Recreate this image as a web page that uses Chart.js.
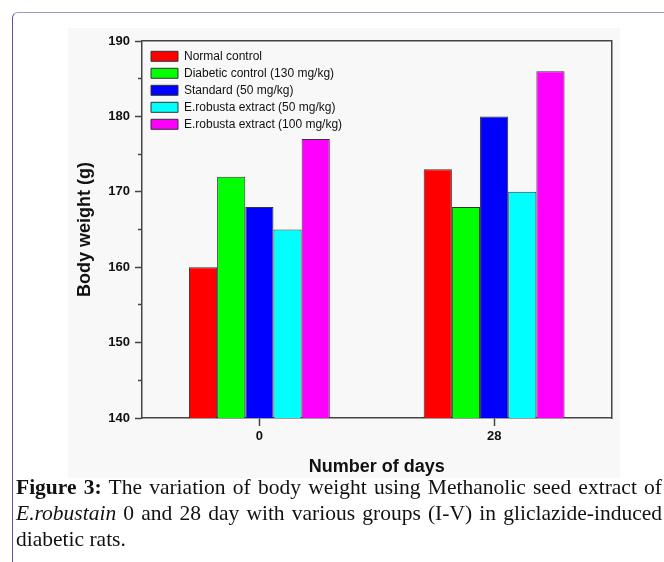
<!DOCTYPE html>
<html>
<head>
<meta charset="utf-8">
<script src="https://cdn.jsdelivr.net/npm/chart.js@4.4.0/dist/chart.umd.min.js"></script>
<style>
  html, body { margin: 0; padding: 0; background: #fff; }
  body { width: 664px; height: 562px; position: relative; overflow: hidden; }
  #frame {
    position: absolute; left: 12px; top: 12px; width: 720px; height: 620px;
    border-left: 1px solid #5a54a4; border-top: 1px solid #9c98c8;
    border-top-left-radius: 6px;
  }
  #panel { position: absolute; left: 68px; top: 28px; width: 552px; height: 450px; background: #f8f8f8; }
  #caption {
    position: absolute; left: 16px; top: 474px; width: 646px;
    font-family: 'Liberation Serif', 'Times New Roman', serif;
    font-size: 21.5px; line-height: 26px; color: #111;
  }
  #caption .j { text-align: justify; text-align-last: justify; white-space: nowrap; }
</style>
</head>
<body>
<div id="frame"></div>
<div id="panel"><canvas id="chart" width="552" height="450"></canvas></div>
<div id="caption">
  <div class="j"><b>Figure 3:</b> The variation of body weight using Methanolic seed extract of</div>
  <div class="j"><i>E.robustain</i> 0 and 28 day with various groups (I-V) in gliclazide-induced</div>
  <div>diabetic rats.</div>
</div>
<script>
// ===== Data =====
const days = ["0", "28"];
const seriesNames = [
  "Normal control",
  "Diabetic control (130 mg/kg)",
  "Standard (50 mg/kg)",
  "E.robusta extract (50 mg/kg)",
  "E.robusta extract (100 mg/kg)",
];
const normalControl = [160, 173];
const diabeticControl = [172, 168];
const standard = [168, 180];
const extract50 = [165, 170];
const extract100 = [177, 186];
const yTicks = [140, 150, 160, 170, 180, 190];
const yMinorTicks = [145, 155, 165, 175, 185];
const barColors = ["#ff0000", "#00ff00", "#0000ff", "#00ffff", "#ff00ff"];

// ===== Style helpers =====
const AXIS = "#444";
const TEXT = "#111";
const FAMILY = "'Liberation Sans', Arial, sans-serif";
Chart.defaults.font.family = FAMILY;

const series = [normalControl, diabeticControl, standard, extract50, extract100];
const datasets = series.map((values, i) => ({
  label: seriesNames[i],
  data: values,
  backgroundColor: barColors[i],
  borderColor: "#333",
  borderWidth: 1,
  categoryPercentage: 0.6,
  barPercentage: 1.0,
}));

// legend sits inside the plot, a bit off the corner
const legendNudge = {
  id: "legendNudge",
  afterLayout(chart) {
    const lg = chart.legend;
    if (!lg) return;
    const h = lg.height;
    lg.left = chart.chartArea.left + 4;
    lg.top = chart.chartArea.top + 4.3;
    lg.bottom = lg.top + h;
  },
};

const fixedTicks = (list) => (scale) => {
  scale.ticks = list.map((v) => ({ value: v }));
};

new Chart(document.getElementById("chart"), {
  type: "bar",
  data: { labels: days, datasets },
  plugins: [legendNudge],
  options: {
    responsive: false,
    animation: false,
    layout: { padding: { top: 13, right: 8.5, left: 0, bottom: 0 } },
    plugins: {
      tooltip: { enabled: false },
      legend: {
        position: "chartArea",
        align: "start",
        labels: {
          boxWidth: 27,
          boxHeight: 10,
          padding: 5,
          color: TEXT,
          font: { size: 12, family: FAMILY },
        },
      },
    },
    scales: {
      x: {
        type: "category",
        position: "bottom",
        offset: true,
        grid: {
          drawOnChartArea: false,
          offset: false,
          tickLength: 8,
          tickColor: AXIS,
          tickWidth: 1.5,
        },
        border: { color: AXIS, width: 1.5 },
        ticks: { color: TEXT, padding: 3, font: { size: 13, weight: "bold" } },
        title: {
          display: true,
          text: "Number of days",
          color: TEXT,
          font: { size: 18, weight: "bold" },
          padding: { top: 0, bottom: 0 },
        },
        afterFit: (s) => { s.height = 60; },
      },
      xTop: {
        type: "category",
        position: "top",
        grid: { display: false },
        ticks: { display: false },
        border: { color: AXIS, width: 1.5 },
        afterFit: (s) => { s.height = 0; },
      },
      y: {
        type: "linear",
        position: "left",
        weight: 1,
        min: 140,
        max: 190,
        afterBuildTicks: fixedTicks(yTicks),
        grid: {
          drawOnChartArea: false,
          tickLength: 7,
          tickColor: AXIS,
          tickWidth: 1.5,
        },
        border: { color: AXIS, width: 1.5 },
        ticks: { color: TEXT, padding: 5, font: { size: 13, weight: "bold" } },
        title: {
          display: true,
          text: "Body weight (g)",
          color: TEXT,
          font: { size: 18, weight: "bold" },
          padding: { top: 6, bottom: 0 },
        },
        afterFit: (s) => { s.width = 74; },
      },
      yMinor: {
        type: "linear",
        position: "left",
        weight: 0,
        min: 140,
        max: 190,
        afterBuildTicks: fixedTicks(yMinorTicks),
        grid: {
          drawOnChartArea: false,
          tickLength: 4,
          tickColor: AXIS,
          tickWidth: 1.5,
        },
        border: { display: false },
        ticks: { display: false },
        afterFit: (s) => { s.width = 0; },
      },
      yRight: {
        type: "linear",
        position: "right",
        min: 140,
        max: 190,
        grid: { display: false },
        ticks: { display: false },
        border: { color: AXIS, width: 1.5 },
        afterFit: (s) => { s.width = 0; },
      },
    },
  },
});
</script>
</body>
</html>
